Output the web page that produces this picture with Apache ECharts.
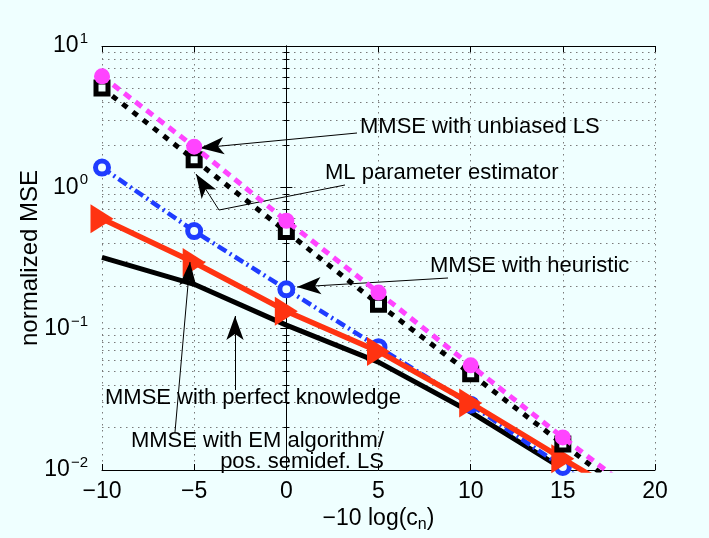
<!DOCTYPE html>
<html>
<head>
<meta charset="utf-8">
<script src="https://cdn.jsdelivr.net/npm/echarts@6/dist/echarts.min.js"></script>
<style>
html, body { margin: 0; padding: 0; background: #efffff; }
#chart { width: 709px; height: 538px; }
</style>
</head>
<body>
<div id="chart"></div>
<script>
// -10 log(c_n) values, last point lies below the plotted range and is clipped
const xValues = [-10, -5, 0, 5, 10, 15, 20];
const unbiasedLS = [6.1, 1.94, 0.58, 0.18, 0.055, 0.017, 0.0054];
const mlEstimator = [5.05, 1.57, 0.486, 0.149, 0.048, 0.0153, 0.0048];
const heuristic = [1.38, 0.49, 0.19, 0.074, 0.029, 0.0105, 0.0038];
const emAlgorithm = [0.6, 0.294, 0.133, 0.069, 0.0298, 0.012, 0.0049];
const perfectKnowledge = [0.319, 0.206, 0.106, 0.058, 0.0257, 0.0102];

const font = '"Liberation Sans", Arial, Helvetica, sans-serif';
const bg = '#efffff';
const minus = v => (v < 0 ? '\u2212' + (-v) : '' + v);
const pairs = arr => arr.map((v, i) => [xValues[i], v]);

const dotted = { color: '#7a7a7a', width: 1, type: [1.5, 4.5] };

const arrowLines = [
  [{ x: 357, y: 133 }, { x: 200, y: 148 }],
  [{ x: 345, y: 185, symbol: 'none' }, { x: 219, y: 210, symbol: 'none' }],
  [{ x: 219, y: 210 }, { x: 196, y: 174 }],
  [{ x: 448, y: 278 }, { x: 297, y: 287 }],
  [{ x: 235, y: 390 }, { x: 235, y: 316 }],
  [{ x: 175, y: 432 }, { x: 190, y: 262 }]
];

const labels = [
  { text: 'MMSE with unbiased LS', x: 360, y: 127, align: 'left' },
  { text: 'ML parameter estimator', x: 325, y: 173, align: 'left' },
  { text: 'MMSE with heuristic', x: 430, y: 266, align: 'left' },
  { text: 'MMSE with perfect knowledge', x: 105, y: 398, align: 'left' },
  { text: 'MMSE with EM algorithm/', x: 384, y: 441, align: 'right' },
  { text: 'pos. semidef. LS', x: 384, y: 462, align: 'right' }
];

const chart = echarts.init(document.getElementById('chart'));

const baseX = { type: 'value', min: -10, max: 20, interval: 5 };
const baseY = { type: 'log', logBase: 10, min: 0.01, max: 10 };

chart.setOption({
  backgroundColor: bg,
  animation: false,
  textStyle: { fontFamily: font },
  grid: { left: 102, right: 54, top: 46, bottom: 67, show: false },
  xAxis: [
    Object.assign({}, baseX, {
      position: 'bottom',
      name: '\u221210 log(c{sub|n})',
      nameLocation: 'middle',
      nameGap: 35,
      nameMoveOverlap: false,
      nameTextStyle: {
        fontSize: 23, color: '#000', fontFamily: font,
        rich: { sub: { fontSize: 16, padding: [12, 0, 0, 0], fontFamily: font } }
      },
      axisLine: { lineStyle: { color: '#000', width: 1 } },
      axisTick: { inside: true, length: 6, lineStyle: { color: '#000' } },
      axisLabel: { fontSize: 23, color: '#000', margin: 10, formatter: minus, fontFamily: font },
      splitLine: { show: true, lineStyle: dotted }
    }),
    Object.assign({}, baseX, {
      position: 'top',
      axisLine: { lineStyle: { color: '#000', width: 1 } },
      axisTick: { inside: true, length: 6, lineStyle: { color: '#000' } },
      axisLabel: { show: false },
      splitLine: { show: false }
    })
  ],
  yAxis: [
    Object.assign({}, baseY, {
      position: 'left',
      name: 'normalized MSE',
      nameLocation: 'middle',
      nameGap: 60,
      nameMoveOverlap: false,
      nameTextStyle: { fontSize: 24, color: '#000', fontFamily: font },
      axisLine: { show: true, lineStyle: { color: '#000', width: 1 } },
      axisTick: { show: true, inside: true, length: 6, lineStyle: { color: '#000' } },
      minorTick: { show: true, splitNumber: 9, length: 3, lineStyle: { color: '#000' } },
      axisLabel: {
        margin: 14,
        color: '#000',
        formatter: v => '{b|10}{s|' + minus(Math.round(Math.log10(v))) + '}',
        rich: {
          b: { fontSize: 23, fontFamily: font, color: '#000' },
          s: { fontSize: 15, fontFamily: font, color: '#000', padding: [0, 0, 14, 1] }
        }
      },
      splitLine: { show: true, lineStyle: dotted },
      minorSplitLine: { show: true, lineStyle: dotted }
    }),
    Object.assign({}, baseY, {
      position: 'right',
      axisLine: { show: true, lineStyle: { color: '#000', width: 1 } },
      axisTick: { show: true, inside: true, length: 6, lineStyle: { color: '#000' } },
      minorTick: { show: true, splitNumber: 9, length: 3, lineStyle: { color: '#000' } },
      axisLabel: { show: false },
      splitLine: { show: false }
    })
  ],
  series: [
    {
      name: 'MMSE with perfect knowledge',
      type: 'line',
      data: pairs(perfectKnowledge),
      showSymbol: false,
      symbol: 'none',
      lineStyle: { color: '#000', width: 5 },
      z: 2,
      markLine: {
        silent: true,
        symbol: ['none', 'arrow'],
        symbolSize: [13, 24],
        label: { show: false },
        lineStyle: { color: '#000', width: 1, type: 'solid' },
        data: arrowLines
      }
    },
    {
      name: 'MMSE with heuristic',
      type: 'line',
      data: pairs(heuristic),
      symbol: 'circle',
      symbolSize: 13,
      lineStyle: { color: '#1f3cff', width: 4.5, type: [10, 4, 2, 4] },
      itemStyle: { color: bg, borderColor: '#1f3cff', borderWidth: 5 },
      z: 3
    },
    {
      name: 'MMSE with EM algorithm',
      type: 'line',
      data: pairs(emAlgorithm),
      symbol: 'triangle',
      symbolSize: [29, 23],
      symbolRotate: -90,
      lineStyle: { color: '#ff3311', width: 5.5 },
      itemStyle: { color: '#ff3311', borderWidth: 0 },
      z: 4
    },
    {
      name: 'ML parameter estimator',
      type: 'line',
      data: pairs(mlEstimator),
      symbol: 'rect',
      symbolSize: 12,
      lineStyle: { color: '#000', width: 5, type: [6, 7] },
      itemStyle: { color: bg, borderColor: '#000', borderWidth: 5 },
      z: 5
    },
    {
      name: 'MMSE with unbiased LS',
      type: 'line',
      data: pairs(unbiasedLS),
      symbol: 'circle',
      symbolSize: 16,
      lineStyle: { color: '#ff44ff', width: 5, type: [8, 6] },
      itemStyle: { color: '#ff44ff', borderWidth: 0 },
      z: 6
    }
  ],
  graphic: labels.map(l => ({
    type: 'text',
    x: l.x,
    y: l.y,
    z: 100,
    style: {
      text: l.text,
      fill: '#000',
      fontSize: 22,
      fontFamily: font,
      align: l.align,
      verticalAlign: 'middle'
    }
  }))
});
</script>
</body>
</html>
